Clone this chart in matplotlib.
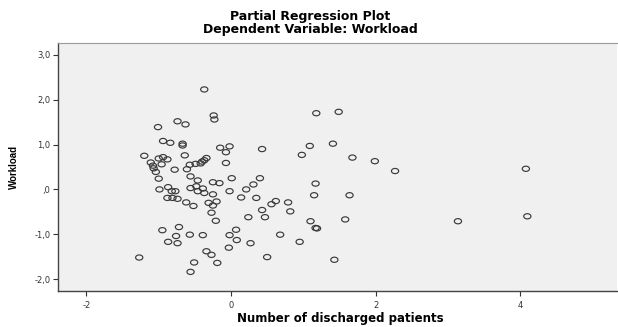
import matplotlib
matplotlib.use("Agg")
import matplotlib.pyplot as plt
import numpy as np
from matplotlib.path import Path
from matplotlib.ticker import FuncFormatter, FixedLocator

plt.rcParams['font.family'] = ['DejaVu Sans']

# Partial regression data (residualised values)
discharged = [
    -0.37, -0.24, -0.23, -0.74, -0.63, -1.01, -0.94, -0.84, -0.67, -0.67,
    -0.15, -0.02, -0.07, 0.43, -1.20, -0.64, -1.00, -0.94, -0.88, -1.11,
    -1.08, -1.07, -1.04, -0.96, -0.78, -0.61, -0.57, -0.49, -0.42, -0.37,
    -0.34, -0.40, -0.07, -1.00, -0.56, -0.46, -0.25, -0.16, 0.01, 0.40,
    0.31, -0.99, -0.87, -0.82, -0.77, -0.56, -0.48, -0.46, -0.39, -0.37,
    -0.88, -0.81, -0.74, -0.62, -0.52, -0.25, -0.02, 0.21, 0.14, 0.35,
    -0.31, -0.20, -0.25, -0.27, -0.21, 0.43, 0.47, 0.24, 0.56, 0.62,
    0.79, 0.82, -0.95, -0.72, -0.76, -0.87, -0.74, -0.57, -0.39, -0.02,
    0.07, 0.08, 0.27, -0.03, -0.34, -0.27, -1.27, -0.51, -0.19, -0.56,
    0.50, 0.68, 0.95, 1.43, 1.10, 1.17, 1.19, 1.58, 1.15, 1.64,
    1.17, 1.18, 1.49, 1.09, 1.41, 0.98, 1.68, 1.99, 2.27, 4.08,
    3.14, 4.10,
]
workload = [
    2.23, 1.65, 1.56, 1.52, 1.45, 1.39, 1.08, 1.04, 1.02, 0.98,
    0.93, 0.96, 0.83, 0.90, 0.75, 0.76, 0.69, 0.72, 0.67, 0.60,
    0.53, 0.47, 0.39, 0.56, 0.44, 0.45, 0.55, 0.57, 0.58, 0.65,
    0.70, 0.62, 0.59, 0.24, 0.29, 0.20, 0.16, 0.14, 0.25, 0.25,
    0.11, 0.00, 0.05, -0.04, -0.04, 0.03, 0.07, -0.04, 0.02, -0.08,
    -0.19, -0.19, -0.21, -0.29, -0.37, -0.11, -0.04, 0.00, -0.18, -0.19,
    -0.30, -0.27, -0.36, -0.52, -0.70, -0.46, -0.62, -0.62, -0.33, -0.26,
    -0.29, -0.49, -0.91, -0.84, -1.04, -1.17, -1.20, -1.01, -1.02, -1.02,
    -0.90, -1.13, -1.20, -1.30, -1.38, -1.46, -1.52, -1.63, -1.64, -1.84,
    -1.51, -1.01, -1.17, -1.57, -0.71, -0.86, -0.87, -0.67, -0.13, -0.13,
    0.13, 1.70, 1.73, 0.97, 1.02, 0.77, 0.71, 0.63, 0.41, 0.46,
    -0.71, -0.60,
]
x_ticks = [-2, 0, 2, 4]
y_ticks = [-2.0, -1.0, 0.0, 1.0, 2.0, 3.0]

title_text = "Partial Regression Plot"
subtitle_text = "Dependent Variable: Workload"
x_label = "Number of discharged patients"
y_label = "Workload"

# elliptical open-circle marker (SPSS output is slightly stretched)
circ = Path.unit_circle()
ell = Path(circ.vertices * np.array([1.0, 0.72]), circ.codes)

W, H = 618, 327
fig = plt.figure(figsize=(W / 100, H / 100), dpi=100)
fig.patch.set_facecolor('white')
ax = fig.add_axes([0.0943, 0.111, 0.904, 0.758])
ax.set_facecolor('#f0f0f0')

ax.scatter(discharged, workload, marker=ell, s=5.2**2, facecolors='none',
           edgecolors='#3a3a3a', linewidths=0.85)

ax.set_xlim(-2.39, 5.34)
ax.set_ylim(-2.26, 3.27)
ax.xaxis.set_major_locator(FixedLocator(x_ticks))
ax.yaxis.set_major_locator(FixedLocator(y_ticks))

def yfmt(v, pos):
    s = f"{abs(v):.1f}".replace('.', ',')
    if s.startswith('0'):
        s = s[1:]
    return ('-' if v < 0 else '') + s

ax.yaxis.set_major_formatter(FuncFormatter(yfmt))
ax.xaxis.set_major_formatter(FuncFormatter(lambda v, p: f"{int(v)}"))

ax.tick_params(axis='both', direction='out', length=3.5, width=0.8,
               color='#333333', labelsize=6, labelcolor='#333333', pad=2)
ax.tick_params(axis='x', pad=4)

for side in ['left', 'bottom']:
    ax.spines[side].set_color('#444444')
    ax.spines[side].set_linewidth(1.0)
ax.spines['top'].set_color('#9a9a9a')
ax.spines['top'].set_linewidth(0.8)
ax.spines['right'].set_visible(False)

fig.text(340 / W, 1 - 318.5 / H, x_label, ha='center', va='center',
         fontsize=8.5, fontweight='bold')
fig.text(14 / W, 1 - 167 / H, y_label, ha='center', va='center',
         rotation=90, fontsize=7, fontweight='bold',
         family=['Liberation Sans', 'DejaVu Sans'])

fig.text(310 / W, 1 - 16.5 / H, title_text, ha='center', va='center',
         fontsize=9, fontweight='bold')
fig.text(310 / W, 1 - 30 / H, subtitle_text, ha='center', va='center',
         fontsize=9, fontweight='bold')

fig.savefig("out.png", dpi=100)
